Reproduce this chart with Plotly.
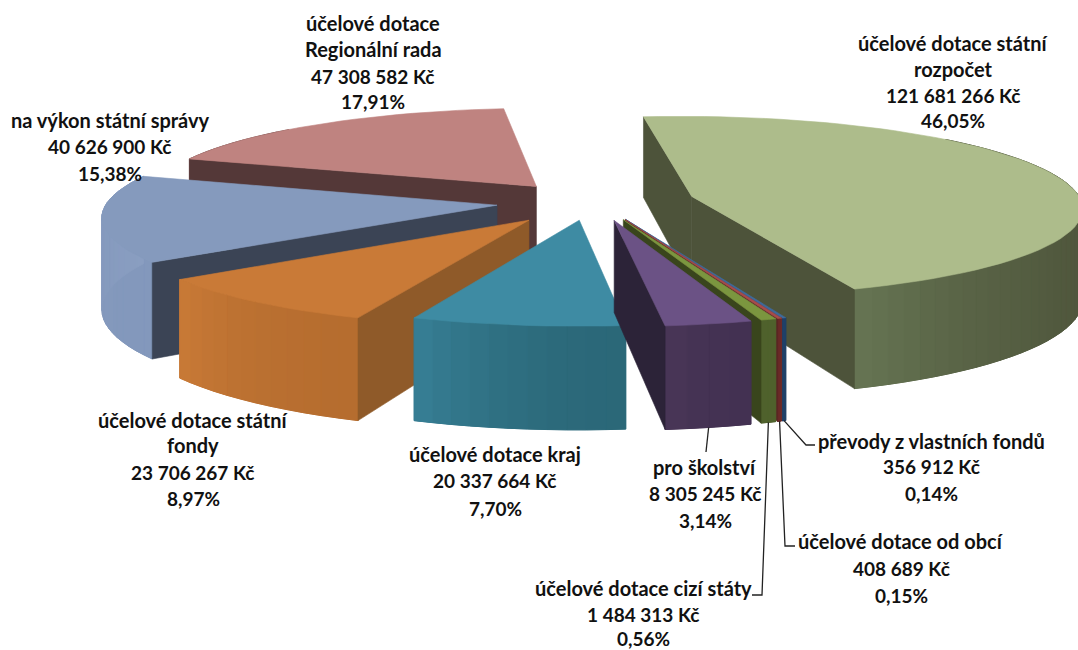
import math
import plotly.graph_objects as go

# ---- data (clockwise from the first slice) ----
names = [
    ["převody z vlastních fondů"],
    ["účelové dotace od obcí"],
    ["účelové dotace cizí státy"],
    ["pro školství"],
    ["účelové dotace kraj"],
    ["účelové dotace státní", "fondy"],
    ["na výkon státní správy"],
    ["účelové dotace", "Regionální rada"],
    ["účelové dotace státní", "rozpočet"],
]
values = [356912, 408689, 1484313, 8305245, 20337664, 23706267, 40626900, 47308582, 121681266]
value_labels = ["356 912 Kč", "408 689 Kč", "1 484 313 Kč", "8 305 245 Kč", "20 337 664 Kč",
                "23 706 267 Kč", "40 626 900 Kč", "47 308 582 Kč", "121 681 266 Kč"]
percent_labels = ["0,14%", "0,15%", "0,56%", "3,14%", "7,70%", "8,97%", "15,38%", "17,91%", "46,05%"]

# ---- styling ----
pull = [0.21, 0.21, 0.21, 0.21, 0.20, 0.25, 0.24, 0.225, 0.27]
pull_skew = [-5, -5, -5, -5, 0, 0, 0, 0, 0]
shade_pow = [2, 2, 2, 2, 2, 2, 2, 2, 6]
top_col = ["#3f6a9a", "#a84c4a", "#7b963f", "#6b5285", "#3e8ba3", "#c97a37", "#859abd", "#bf8380", "#adbc8b"]
side_col = ["#1f4068", "#5a2624", "#39451c", "#2c2338", "#2b6878", "#8f5a29", "#3b4455", "#543838", "#4d533a"]
wall_a = ["#1f4068", "#6a2a28", "#4f612c", "#433152", "#2b6878", "#b66d2f", "#8398bc", "#8a5f5d", "#4d533a"]
wall_b = ["#1f4068", "#6a2a28", "#4f612c", "#493657", "#377f96", "#c97a37", "#8a9ec1", "#8a5f5d", "#667553"]
draw_order = [7, 6, 5, 4, 8, 0, 1, 2, 3]
first_angle = 159.5
cx, cy, S, eS, persp, depth = 590, 202, 390, 90, 0.11, 90

label_x = [931, 901, 643, 705, 495, 193, 110, 373, 953]
label_y = [[441, 466, 493], [541, 568, 595], [588, 614, 638], [467, 493, 520], [454, 480, 508],
           [420, 445, 472, 498], [120, 146, 173], [23, 49, 76, 101], [43, 69, 95, 120]]
leader_via = {3: [(706, 452)], 2: [(762, 595), (752, 595)], 1: [(785, 546), (795, 546)], 0: [(806, 445), (815, 445)]}
FONT = "Lato"


def project(X, Y, z=0.0):
    w = 1 + persp * Y
    return cx + S * X / w, cy - eS * Y / w + depth * z / w


def lerp(c1, c2, t):
    a = [int(c1[i:i + 2], 16) for i in (1, 3, 5)]
    b = [int(c2[i:i + 2], 16) for i in (1, 3, 5)]
    return "#%02x%02x%02x" % tuple(round(p + (q - p) * t) for p, q in zip(a, b))


def poly(fig, pts, color, lw=0.6):
    xs = [p[0] for p in pts] + [pts[0][0]]
    ys = [p[1] for p in pts] + [pts[0][1]]
    fig.add_trace(go.Scatter(x=xs, y=ys, mode="lines", fill="toself", fillcolor=color,
                             line=dict(color=color, width=lw), hoverinfo="skip", showlegend=False))


total = sum(values)
starts, spans = [], []
a = first_angle
for v in values:
    starts.append(a)
    spans.append(360 * v / total)
    a += 360 * v / total

fig = go.Figure()
bottom_mid = {}
for i in draw_order:
    a0, sp = starts[i], spans[i]
    mid = math.radians(a0 + sp / 2 + pull_skew[i])
    ox, oy = pull[i] * math.sin(mid), pull[i] * math.cos(mid)

    def pt(deg, z=0.0):
        r = math.radians(deg)
        return project(ox + math.sin(r), oy + math.cos(r), z)

    bottom_mid[i] = pt(a0 + sp / 2, 1.0)
    n = max(2, int(sp / 2.5))
    degs = [a0 + sp * k / n for k in range(n + 1)]
    # outer wall: one base shape, then shaded strips
    vis = [d for d in degs if math.cos(math.radians(d)) <= 0.7]
    if len(vis) >= 2:
        poly(fig, [pt(d) for d in vis] + [pt(d, 1) for d in reversed(vis)], lerp(wall_a[i], wall_b[i], 0.4))
    for k in range(n):
        if math.cos(math.radians((degs[k] + degs[k + 1]) / 2)) > 0.7:
            continue
        t = ((k + 0.5) / n) ** shade_pow[i]
        poly(fig, [pt(degs[k]), pt(degs[k + 1]), pt(degs[k + 1], 1), pt(degs[k], 1)],
             lerp(wall_a[i], wall_b[i], t), lw=1.0)
    # radial walls that face the viewer
    apex, apex_b = project(ox, oy), project(ox, oy, 1)
    inner = pt(a0 + sp / 2)
    vx, vy = inner[0] - apex[0], inner[1] - apex[1]
    for d in (a0, a0 + sp):
        rim = pt(d)
        ex, ey = rim[0] - apex[0], rim[1] - apex[1]
        if abs(ex) < 1e-6:
            continue
        if vy < ey / ex * vx:
            poly(fig, [apex, rim, pt(d, 1), apex_b], side_col[i])
    # top face
    poly(fig, [apex] + [pt(d) for d in degs], top_col[i])

# leader lines
for i, via in leader_via.items():
    pts = [bottom_mid[i]] + via
    fig.add_trace(go.Scatter(x=[p[0] for p in pts], y=[p[1] for p in pts], mode="lines",
                             line=dict(color="#222222", width=1.3), hoverinfo="skip", showlegend=False))

# labels
annotations = []
for i in range(len(values)):
    lines = names[i] + [value_labels[i], percent_labels[i]]
    for j, (ln, yy) in enumerate(zip(lines, label_y[i])):
        size = 20 if j < len(names[i]) else 19
        annotations.append(dict(x=label_x[i], y=yy, text=ln, showarrow=False, xanchor="center", yanchor="middle",
                                font=dict(family=FONT, size=size, color="#111111", weight="bold")))

fig.update_layout(
    width=1078, height=650, margin=dict(l=0, r=0, t=0, b=0), autosize=False,
    paper_bgcolor="white", plot_bgcolor="white", showlegend=False,
    xaxis=dict(range=[0, 1078], visible=False, fixedrange=True),
    yaxis=dict(range=[650, 0], visible=False, fixedrange=True),
    annotations=annotations,
)
fig.write_html("out.html", config={"displayModeBar": False},
               post_script="document.body.style.margin='0';")
